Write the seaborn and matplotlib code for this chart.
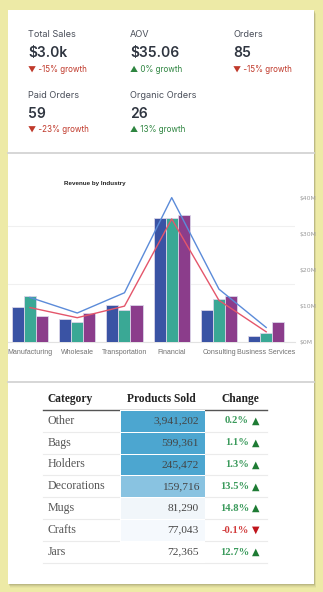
import numpy as np
import pandas as pd
import matplotlib
matplotlib.use("Agg")
import matplotlib.pyplot as plt
from matplotlib.colors import ListedColormap, BoundaryNorm
from matplotlib.patches import Rectangle
import seaborn as sns

# ---------------- data ----------------
kpi_labels = ["Total Sales", "AOV", "Orders", "Paid Orders", "Organic Orders"]
kpi_values = ["$3.0k", "$35.06", "85", "59", "26"]
kpi_growth = [-15, 0, -15, -23, 13]

industries = ["Manufacturing", "Wholesale", "Transportation", "Financial",
              "Consulting", "Business Services"]
series_names = ["2021", "2022", "2023"]
rev_2021 = [12.1, 8.0, 13.0, 43.0, 11.0, 2.1]
rev_2022 = [16.0, 7.1, 11.0, 43.0, 14.9, 3.1]
rev_2023 = [9.1, 10.0, 13.0, 43.9, 16.0, 7.0]
target = [12.4, 8.1, 13.7, 40.0, 14.7, 4.1]
prior_year = [9.6, 6.8, 10.0, 34.1, 11.6, 2.9]
line_ticks = [0, 10, 20, 30, 40]

categories = ["Other", "Bags", "Holders", "Decorations", "Mugs", "Crafts", "Jars"]
products_sold = [3941202, 599361, 245472, 159716, 81290, 77043, 72365]
change_pct = [0.2, 1.1, 1.3, 13.5, 14.8, -0.1, 12.7]

# ---------------- figure ----------------
W, H = 323, 592
fig = plt.figure(figsize=(W / 100, H / 100), dpi=100)
BG = "#EDEAA6"
fig.patch.set_facecolor(BG)

def px_axes(x0, y0, x1, y1, **kw):
    return fig.add_axes([x0 / W, 1 - y1 / H, (x1 - x0) / W, (y1 - y0) / H], **kw)

bg = px_axes(0, 0, W, H)
bg.set_xlim(0, W)
bg.set_ylim(H, 0)
bg.axis("off")
bg.set_zorder(0)

# card with soft shadow
for i, a in enumerate([0.05, 0.08, 0.12, 0.18]):
    off = 4 - i
    bg.add_patch(Rectangle((8 + off * 0.6, 10 + off), 306, 574, color="#6b6b4a",
                           alpha=a, lw=0, zorder=1))
bg.add_patch(Rectangle((8, 10), 306, 574, color="white", lw=0, zorder=2))
bg.plot([8, 314], [153, 153], color="#D3D3D3", lw=1.3, zorder=3)
bg.plot([8, 314], [381.5, 381.5], color="#D3D3D3", lw=1.3, zorder=3)

# ---------------- KPI tiles ----------------
kfont = ["Inter", "DejaVu Sans"]
col_x = [28, 130, 233, 28, 130]
row_y = [34.3, 34.3, 34.3, 95, 95]
for lab, val, g, x, y in zip(kpi_labels, kpi_values, kpi_growth, col_x, row_y):
    bg.text(x, y, lab, fontsize=6.6, color="#4a4f5a", family=kfont,
            va="center", ha="left", zorder=5)
    bg.text(x, y + 18.5, val, fontsize=10, color="#2f3540", family=kfont,
            fontweight="semibold", va="center", ha="left", zorder=5)
    up = g >= 0
    col = "#2E8540" if up else "#C0392B"
    tri = "\u25B2" if up else "\u25BC"
    bg.text(x, y + 34.7, f"{tri} {g}% growth", fontsize=5.8, color=col,
            family=kfont, va="center", ha="left", zorder=5)

# ---------------- Revenue by Industry ----------------
rev = pd.DataFrame({
    "industry": industries * 3,
    "series": np.repeat(series_names, len(industries)),
    "revenue": rev_2021 + rev_2022 + rev_2023,
})
lines = pd.DataFrame({
    "industry": industries * 2,
    "series": ["Target"] * 6 + ["Prior Year"] * 6,
    "revenue": target + prior_year,
})

y_base, y_top = 342.3, 342.3 - 45 * 3.617
ax = px_axes(8, y_top, 295, y_base)
ax.set_zorder(4)
ax.patch.set_alpha(0)
sns.barplot(data=rev, x="industry", y="revenue", hue="series", ax=ax,
            palette=["#3A53A4", "#3AA895", "#8B3D8B"], width=0.763, gap=0,
            saturation=1, edgecolor="#DAD5E8", linewidth=0.6, legend=False,
            zorder=3)
ax.set_xlim(-0.466, 5.61)
ax.set_ylim(0, 56.1)
ax.set_yticks([0, 20, 40])
ax.set_yticklabels([])
ax.tick_params(axis="y", length=0)
ax.grid(axis="y", color="#F0F0F0", lw=0.8, zorder=0)
ax.set_axisbelow(True)
for s in ["top", "right", "left"]:
    ax.spines[s].set_visible(False)
ax.spines["bottom"].set_color("#E2E2E2")
ax.spines["bottom"].set_linewidth(0.8)
ax.set_xlabel("")
ax.set_ylabel("")
ax.tick_params(axis="x", length=0, pad=4.5, labelsize=5.0, labelcolor="#707070")
for t in ax.get_xticklabels():
    t.set_family(["Liberation Sans Narrow", "Liberation Sans", "DejaVu Sans"])

ax2 = ax.twinx()
sns.lineplot(data=lines, x="industry", y="revenue", hue="series", ax=ax2,
             palette=["#5B8BD9", "#E4566B"], lw=1.0, legend=False, sort=False)
ax2.set_xlim(-0.466, 5.61)
ax2.set_ylim(0, 45)
ax2.set_yticks(line_ticks)
ax2.set_yticklabels([f"${v}M" for v in line_ticks])
ax2.tick_params(axis="y", length=0, pad=3, labelsize=4.4, labelcolor="#9a9a9a")
for s in ax2.spines.values():
    s.set_visible(False)
ax2.set_ylabel("")
ax2.set_xlabel("")

bg.text(64, 184, "Revenue by Industry", fontsize=4.5, fontweight="bold",
        color="#222222", family=["Liberation Sans", "DejaVu Sans"],
        va="center", ha="left", zorder=5)

# ---------------- Products table ----------------
serif = ["Liberation Serif", "DejaVu Serif"]
hdr_y = 399.3
bg.text(48, hdr_y, "Category", fontsize=8.3, fontweight="bold", color="#222",
        family=serif, va="center", ha="left", zorder=5)
bg.text(161.5, hdr_y, "Products Sold", fontsize=8.3, fontweight="bold",
        color="#222", family=serif, va="center", ha="center", zorder=5)
bg.text(240.5, hdr_y, "Change", fontsize=8.3, fontweight="bold", color="#222",
        family=serif, va="center", ha="center", zorder=5)

top, rh = 409.7, 21.9
for k in range(1, len(categories) + 1):
    bg.plot([43, 267], [top + k * rh, top + k * rh], color="#EBEBEB", lw=0.8, zorder=3)
bg.plot([43, 267], [top, top], color="#555555", lw=1.0, zorder=6)

hax = px_axes(120, top, 205, top + rh * len(categories))
hax.set_zorder(4)
cmap = ListedColormap(["#FFFFFF", "#F5F9FD", "#F1F6FA", "#89C3E1", "#4CA6D0"])
norm = BoundaryNorm([0, 75000, 78000, 100000, 200000, 5e6], cmap.N)
sold = pd.DataFrame({"Products Sold": products_sold}, index=categories)
sns.heatmap(sold, ax=hax, cmap=cmap, norm=norm, cbar=False, linewidths=0.7,
            linecolor="white", xticklabels=False, yticklabels=False)
hax.set_xlabel("")
hax.set_ylabel("")

for i, (cat, n, ch) in enumerate(zip(categories, products_sold, change_pct)):
    yc = top + rh * (i + 0.5)
    bg.text(48, yc, cat, fontsize=8.6, color="#555", family=serif,
            va="center", ha="left", zorder=5)
    hax.text(0.93, i + 0.5, f"{n:,}", fontsize=8.2, color="#444", family=serif,
             va="center", ha="right", zorder=5)
    up = ch >= 0
    tcol = "#3A9A5B" if up else "#D23C3C"
    mcol = "#1E7B34" if up else "#C0141B"
    bg.text(249, yc, f"{ch}%", fontsize=7.6, fontweight="bold", color=tcol,
            family=serif, va="center", ha="right", zorder=5)
    bg.text(255.5, yc, "\u25B2" if up else "\u25BC", fontsize=7, color=mcol,
            family="DejaVu Sans", va="center", ha="center", zorder=5)

fig.savefig("out.png", dpi=100, facecolor=BG)
